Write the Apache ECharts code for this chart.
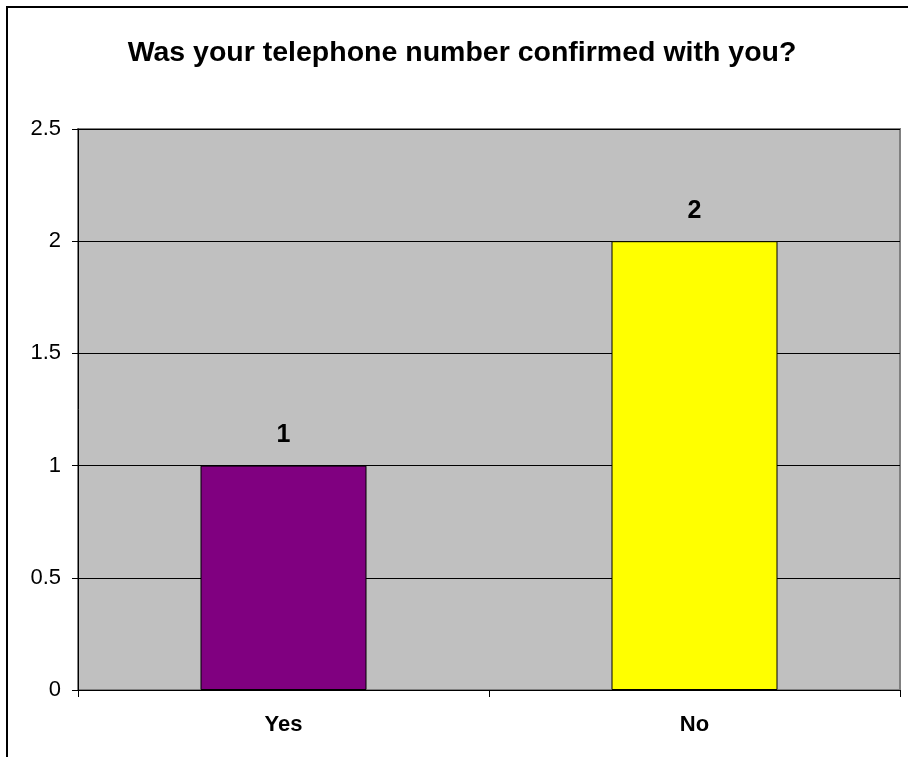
<!DOCTYPE html>
<html>
<head>
<meta charset="utf-8">
<script src="https://cdn.jsdelivr.net/npm/echarts@6/dist/echarts.min.js"></script>
<style>
  html, body { margin: 0; padding: 0; background: #ffffff; }
  #chart { width: 908px; height: 757px; }
</style>
</head>
<body>
<div id="chart"></div>
<script>
// Survey answers and counts
const categories = ['Yes', 'No'];
const counts = [1, 2];
const barColors = ['#800080', '#FFFF00'];
const yTicks = { min: 0, max: 2.5, interval: 0.5 };

const FONT = '"Liberation Sans", Arial, sans-serif';

const chart = echarts.init(document.getElementById('chart'), null, { renderer: 'canvas' });

chart.setOption({
  animation: false,
  backgroundColor: '#ffffff',
  title: {
    text: 'Was your telephone number confirmed with you?',
    left: 457,
    top: 34,
    textAlign: 'center',
    textStyle: { fontFamily: FONT, fontWeight: 'bold', fontSize: 28.5, color: '#000' }
  },
  graphic: [{
    type: 'rect',
    shape: { x: 7, y: 7, width: 940, height: 800 },
    style: { fill: 'none', stroke: '#000', lineWidth: 2 },
    silent: true,
    z: 100
  }],
  grid: {
    left: 78, top: 129, right: 8, bottom: 67,
    show: true,
    backgroundColor: '#C0C0C0',
    borderColor: '#808080',
    borderWidth: 2
  },
  xAxis: {
    type: 'category',
    data: categories,
    axisLine: { lineStyle: { color: '#000', width: 1 } },
    axisTick: { show: true, length: 7, lineStyle: { color: '#000' } },
    axisLabel: { fontFamily: FONT, fontWeight: 'bold', fontSize: 22, color: '#000', margin: 24 }
  },
  yAxis: {
    type: 'value',
    min: yTicks.min, max: yTicks.max, interval: yTicks.interval,
    axisLine: { show: true, lineStyle: { color: '#000', width: 1 } },
    axisTick: { show: true, length: 6, lineStyle: { color: '#000' } },
    splitLine: { show: true, lineStyle: { color: '#000', width: 1 } },
    axisLabel: {
      fontFamily: FONT, fontSize: 22, color: '#000', margin: 17,
      formatter: v => String(v)
    }
  },
  series: [{
    type: 'bar',
    barWidth: 166,
    data: counts.map((v, i) => ({
      value: v,
      itemStyle: { color: barColors[i], borderColor: '#000', borderWidth: 1 }
    })),
    label: {
      show: true,
      position: 'top',
      distance: 18,
      fontFamily: FONT, fontWeight: 'bold', fontSize: 25, color: '#000'
    }
  }]
});
</script>
</body>
</html>
